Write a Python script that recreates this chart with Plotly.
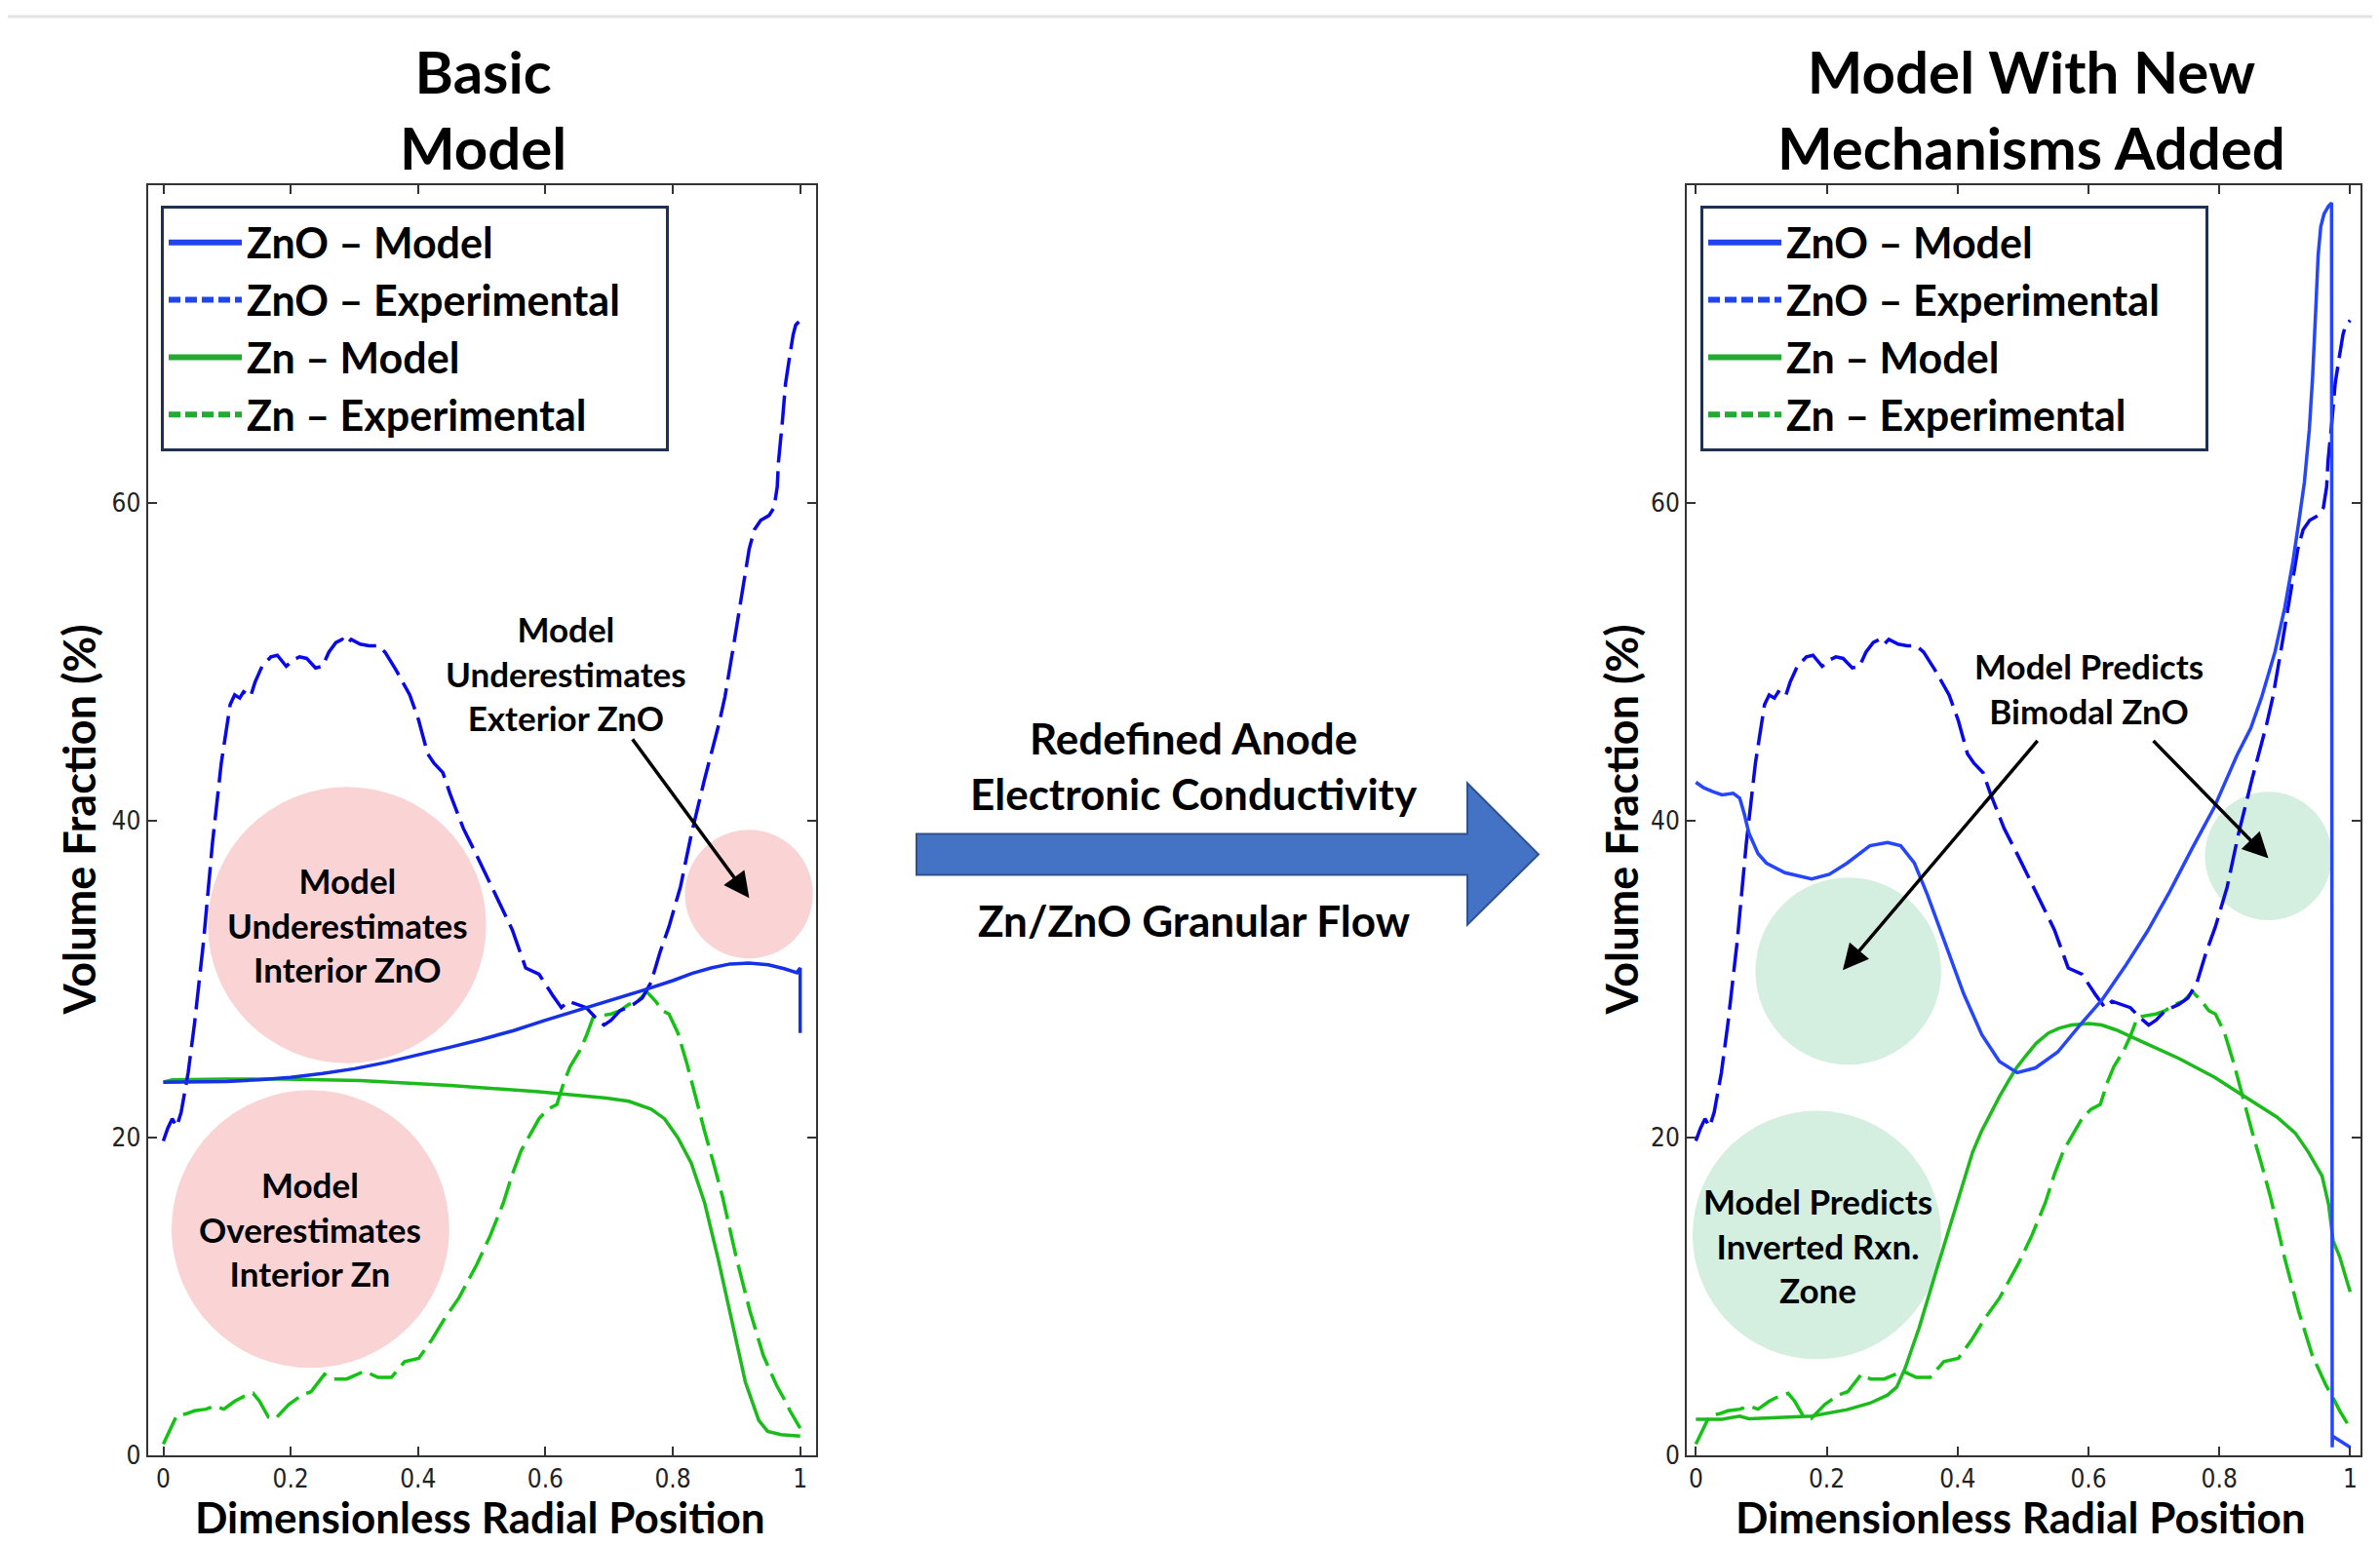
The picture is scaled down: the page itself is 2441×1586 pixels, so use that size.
import plotly.graph_objects as go

W, H = 2441, 1586          # browser window
OFF = 8                    # default body margin of the page
FW, FH = W - 2 * OFF, H    # figure size
SY = (H + 2 * OFF) / H     # page is captured a bit taller than the window, then fitted

# ---------------- data ----------------
zno_exp_x = [0.000, 0.007, 0.014, 0.021, 0.028, 0.034, 0.039, 0.049, 0.063, 0.077, 0.091, 0.105,
             0.112, 0.120, 0.126, 0.137, 0.144, 0.155, 0.169, 0.179, 0.193, 0.204, 0.214, 0.225,
             0.239, 0.250, 0.260, 0.271, 0.281, 0.288, 0.295, 0.309, 0.323, 0.337, 0.348, 0.365,
             0.387, 0.401, 0.415, 0.425, 0.439, 0.450, 0.471, 0.492, 0.520, 0.548, 0.569, 0.590,
             0.611, 0.625, 0.636, 0.650, 0.664, 0.678, 0.692, 0.703, 0.717, 0.738, 0.752, 0.766,
             0.780, 0.794, 0.812, 0.829, 0.850, 0.872, 0.882, 0.895, 0.908, 0.920, 0.928, 0.938,
             0.951, 0.959, 0.964, 0.966, 0.972, 0.977, 0.983, 0.989, 0.993, 1.000]
zno_exp_y = [19.8, 20.6, 21.2, 20.7, 21.6, 23.0, 24.1, 27.2, 32.3, 38.5, 43.6, 47.3,
             47.9, 47.7, 48.1, 47.8, 48.7, 49.7, 50.3, 50.4, 49.7, 50.1, 50.3, 50.2,
             49.6, 49.7, 50.6, 51.2, 51.4, 51.1, 51.4, 51.1, 51.0, 51.0, 50.6, 49.5,
             47.9, 46.3, 44.2, 43.6, 43.0, 41.7, 39.5, 37.8, 35.4, 33.1, 30.7, 30.3,
             29.0, 28.2, 28.6, 28.4, 28.2, 27.6, 27.1, 27.4, 28.0, 28.4, 28.8, 29.8,
             31.7, 33.3, 35.8, 39.1, 42.6, 46.0, 47.8, 50.9, 54.0, 57.1, 58.3, 58.9,
             59.2, 59.7, 61.0, 62.6, 65.1, 67.5, 69.1, 70.6, 71.2, 71.5]

zn_exp_x = [0.000, 0.011, 0.021, 0.035, 0.049, 0.067, 0.081, 0.095, 0.112, 0.126, 0.141, 0.151,
            0.165, 0.176, 0.197, 0.218, 0.232, 0.253, 0.267, 0.288, 0.316, 0.337, 0.358, 0.379,
            0.401, 0.422, 0.443, 0.464, 0.492, 0.513, 0.534, 0.548, 0.562, 0.576, 0.590, 0.604,
            0.618, 0.629, 0.639, 0.654, 0.664, 0.675, 0.689, 0.703, 0.717, 0.731, 0.745, 0.759,
            0.773, 0.784, 0.794, 0.808, 0.822, 0.836, 0.850, 0.864, 0.878, 0.900, 0.921, 0.942,
            0.963, 0.974, 0.984, 1.000]
zn_exp_y = [0.7, 1.7, 2.5, 2.6, 2.8, 2.9, 3.1, 2.9, 3.4, 3.7, 3.9, 3.4,
            2.4, 2.3, 3.2, 3.8, 4.0, 5.1, 4.8, 4.8, 5.3, 4.9, 4.9, 5.9,
            6.1, 7.3, 8.7, 9.9, 12.0, 13.8, 15.9, 17.7, 19.2, 20.2, 21.2, 21.8,
            22.1, 23.5, 24.5, 25.5, 26.4, 27.6, 27.7, 27.8, 28.0, 28.4, 28.6, 29.2,
            28.6, 28.0, 27.8, 26.6, 24.7, 22.5, 20.4, 18.4, 16.3, 12.4, 9.1, 6.3,
            4.4, 3.6, 2.8, 1.7]

basic_zno_model_x = [0.00, 0.05, 0.10, 0.15, 0.20, 0.25, 0.30, 0.35, 0.40, 0.45, 0.50, 0.55,
                     0.60, 0.65, 0.70, 0.75, 0.80, 0.83, 0.86, 0.89, 0.92, 0.95, 0.975, 0.995,
                     1.000, 1.000]
basic_zno_model_y = [23.5, 23.5, 23.55, 23.65, 23.8, 24.05, 24.35, 24.75, 25.2, 25.7, 26.2, 26.75,
                     27.4, 28.0, 28.6, 29.25, 29.9, 30.35, 30.7, 30.95, 31.0, 30.9, 30.65, 30.4,
                     30.7, 26.6]

basic_zn_model_x = [0.000, 0.014, 0.098, 0.190, 0.309, 0.450, 0.590, 0.696, 0.731, 0.766, 0.787,
                    0.808, 0.829, 0.850, 0.871, 0.892, 0.914, 0.935, 0.949, 0.970, 1.000]
basic_zn_model_y = [23.5, 23.65, 23.7, 23.7, 23.6, 23.3, 22.9, 22.5, 22.3, 21.8, 21.2,
                    20.0, 18.4, 15.9, 12.4, 8.5, 4.6, 2.2, 1.5, 1.3, 1.2]

new_zno_model_x = [0.000, 0.012, 0.026, 0.040, 0.057, 0.067, 0.074, 0.081, 0.095, 0.108, 0.136,
                   0.177, 0.204, 0.231, 0.266, 0.293, 0.313, 0.334, 0.354, 0.382, 0.409, 0.437,
                   0.464, 0.491, 0.519, 0.553, 0.587, 0.621, 0.656, 0.690, 0.724, 0.758, 0.792,
                   0.827, 0.848, 0.865, 0.885, 0.900, 0.9125, 0.9225, 0.930, 0.9375, 0.9425,
                   0.9475, 0.951, 0.955, 0.960, 0.967, 0.9715, 0.9725, 0.9730, 1.000]
new_zno_model_y = [42.4, 42.05, 41.8, 41.6, 41.7, 41.4, 40.4, 39.2, 37.9, 37.3, 36.7,
                   36.3, 36.6, 37.3, 38.4, 38.6, 38.4, 37.3, 35.3, 32.2, 29.1, 26.5,
                   24.8, 24.1, 24.4, 25.4, 27.1, 28.7, 30.8, 33.0, 35.5, 38.2, 40.8,
                   44.1, 45.8, 47.8, 50.6, 53.4, 56.3, 59.1, 61.3, 64.6, 67.9,
                   72.3, 75.6, 77.4, 78.2, 78.7, 78.9, 0.5, 1.2, 0.5]

new_zn_model_x = [0.000, 0.040, 0.067, 0.081, 0.177, 0.231, 0.266, 0.293, 0.307, 0.320, 0.330,
                  0.341, 0.368, 0.396, 0.410, 0.423, 0.437, 0.450, 0.464, 0.478, 0.490, 0.505,
                  0.520, 0.539, 0.555, 0.574, 0.601, 0.620, 0.642, 0.690, 0.738, 0.793, 0.847,
                  0.888, 0.916, 0.936, 0.957, 0.967, 0.974, 0.984, 0.994, 1.000]
new_zn_model_y = [2.26, 2.26, 2.46, 2.3, 2.46, 2.87, 3.28, 3.79, 4.3, 5.5, 6.7,
                  8.0, 11.7, 15.4, 17.4, 19.1, 20.45, 21.5, 22.6, 23.6, 24.4, 25.2,
                  25.95, 26.6, 26.9, 27.1, 27.2, 27.1, 26.8, 25.9, 25.0, 23.8, 22.4,
                  21.3, 20.3, 19.1, 17.6, 15.8, 13.5, 12.5, 11.1, 10.3]

x_tick_vals = [0, 0.2, 0.4, 0.6, 0.8, 1]
x_tick_text = ["0", "0.2", "0.4", "0.6", "0.8", "1"]
y_tick_vals = [0, 20, 40, 60]
y_tick_text = ["0", "20", "40", "60"]

series_names = ["ZnO \u2013 Model", "ZnO \u2013 Experimental", "Zn \u2013 Model", "Zn \u2013 Experimental"]

panel_titles = ["Basic<br>Model", "Model With New<br>Mechanisms Added"]
x_title = "Dimensionless Radial Position"
y_title = "Volume Fraction (%)"

# ---------------- style ----------------
FONT = "Lato, 'Open Sans', sans-serif"
TICKFONT = "'Liberation Sans Narrow', 'DejaVu Sans Condensed', 'Liberation Sans', sans-serif"
BLUE_MODEL_L = "#1630E8"
BLUE_MODEL_R = "#2645FF"
BLUE_EXP = "#0808E8"
GREEN_MODEL = "#1CBA1C"
GREEN_EXP = "#14C214"
LEG_BLUE = "#2244EE"
LEG_GREEN = "#22AA33"
PINK = "#FAD4D4"
MINT = "#D4EFE0"
DASH = "30px,9px"
LW = 3.5


def px_x(fx):
    """target picture pixel -> paper fraction"""
    return (fx - OFF) / FW


def px_y(fy):
    return 1 - (fy * SY - OFF) / FH


fig = go.Figure()

panels = [
    ("x", "y", "legend", BLUE_MODEL_L, basic_zno_model_x, basic_zno_model_y, basic_zn_model_x, basic_zn_model_y),
    ("x2", "y2", "legend2", BLUE_MODEL_R, new_zno_model_x, new_zno_model_y, new_zn_model_x, new_zn_model_y),
]

PAD = "\u00a0" * 4
for xa, ya, leg, bm, znomx, znomy, znmx, znmy in panels:
    fig.add_trace(go.Scatter(x=zn_exp_x, y=zn_exp_y, xaxis=xa, yaxis=ya, mode="lines",
                             line=dict(color=GREEN_EXP, width=LW, dash=DASH), showlegend=False,
                             name=series_names[3]))
    fig.add_trace(go.Scatter(x=znmx, y=znmy, xaxis=xa, yaxis=ya, mode="lines",
                             line=dict(color=GREEN_MODEL, width=LW), showlegend=False,
                             name=series_names[2]))
    fig.add_trace(go.Scatter(x=zno_exp_x, y=zno_exp_y, xaxis=xa, yaxis=ya, mode="lines",
                             line=dict(color=BLUE_EXP, width=LW, dash=DASH), showlegend=False,
                             name=series_names[1]))
    fig.add_trace(go.Scatter(x=znomx, y=znomy, xaxis=xa, yaxis=ya, mode="lines",
                             line=dict(color=bm, width=LW), showlegend=False,
                             name=series_names[0]))
    # legend entries
    leg_styles = [(LEG_BLUE, "solid"), (LEG_BLUE, "12px,5px"), (LEG_GREEN, "solid"), (LEG_GREEN, "12px,5px")]
    for i, (c, d) in enumerate(leg_styles):
        fig.add_trace(go.Scatter(x=[None], y=[None], xaxis=xa, yaxis=ya, mode="lines",
                                 line=dict(color=c, width=6, dash=d), name=series_names[i] + PAD,
                                 legend=leg, legendgroup=f"{leg}_{i}", showlegend=True))

legend_common = dict(
    xanchor="left", yanchor="top", bgcolor="white", bordercolor="#1F3050", borderwidth=3,
    font=dict(family=FONT, size=43, color="black", weight="bold"),
    traceorder="grouped", tracegroupgap=0, itemwidth=75,
)

axis_common = dict(
    showgrid=False, zeroline=False, showline=True, linecolor="#333333", linewidth=2,
    mirror="ticks", ticks="inside", ticklen=9, tickwidth=1.5, tickcolor="#333333",
    tickfont=dict(family=TICKFONT, size=26, color="#222222"),
)

ydom = [px_y(1492), px_y(190)]
fig.update_layout(
    width=FW, height=FH,
    margin=dict(l=0, r=0, t=0, b=0),
    paper_bgcolor="white", plot_bgcolor="white",
    xaxis=dict(domain=[px_x(151.5), px_x(837)], range=[-0.0245, 1.025], anchor="y",
               tickvals=x_tick_vals, ticktext=x_tick_text, **axis_common),
    yaxis=dict(domain=ydom, range=[0, 80], anchor="x",
               tickvals=y_tick_vals, ticktext=y_tick_text, **axis_common),
    xaxis2=dict(domain=[px_x(1730), px_x(2420.5)], range=[-0.0139, 1.015], anchor="y2",
                tickvals=x_tick_vals, ticktext=x_tick_text, **axis_common),
    yaxis2=dict(domain=ydom, range=[0, 80], anchor="x2",
                tickvals=y_tick_vals, ticktext=y_tick_text, **axis_common),
    legend=dict(x=px_x(165), y=px_y(211), **legend_common),
    legend2=dict(x=px_x(1744), y=px_y(211), **legend_common),
)

shapes = []
# thin grey line at top of image
shapes.append(dict(type="line", xref="paper", yref="paper", x0=0, x1=1, y0=px_y(17), y1=px_y(17),
                   line=dict(color="#E4E4E4", width=3)))

# highlight ellipses (left)
for x0, x1, y0, y1 in [(0.070, 0.507, 24.7, 42.1), (0.013, 0.449, 5.5, 23.0), (0.819, 1.020, 31.3, 39.4)]:
    shapes.append(dict(type="circle", xref="x", yref="y", x0=x0, x1=x1, y0=y0, y1=y1,
                       fillcolor=PINK, line=dict(width=0), layer="below"))
# highlight ellipses (right)
for x0, x1, y0, y1 in [(-0.005, 0.375, 6.05, 21.7), (0.091, 0.375, 24.6, 36.4), (0.778, 0.972, 33.7, 41.8)]:
    shapes.append(dict(type="circle", xref="x2", yref="y2", x0=x0, x1=x1, y0=y0, y1=y1,
                       fillcolor=MINT, line=dict(width=0), layer="below"))

# central block arrow
pts = [(940, 855), (1505, 855), (1505, 803), (1578, 876), (1505, 948), (1505, 897), (940, 897)]
path = "M " + " L ".join(f"{px_x(a):.5f},{px_y(b):.5f}" for a, b in pts) + " Z"
shapes.append(dict(type="path", xref="paper", yref="paper", path=path,
                   fillcolor="#4472C4", line=dict(color="#2F528F", width=2)))

ann = []
BF = dict(family=FONT, color="black", weight="bold")
C = dict(xanchor="center", yanchor="middle", showarrow=False)

# panel titles
ann.append(dict(text=panel_titles[0], x=px_x(495), y=px_y(112), xref="paper", yref="paper",
                font=dict(size=60, **BF), align="center", **C))
ann.append(dict(text=panel_titles[1], x=px_x(2083), y=px_y(112), xref="paper", yref="paper",
                font=dict(size=60, **BF), align="center", **C))

# axis titles
for cx, yx in [(492, 81), (2072, 1663)]:
    ann.append(dict(text=x_title, x=px_x(cx), y=px_y(1555), xref="paper", yref="paper",
                    font=dict(size=44, **BF), **C))
    ann.append(dict(text=y_title, x=px_x(yx), y=px_y(841), xref="paper", yref="paper",
                    textangle=-90, font=dict(size=45, **BF), **C))

# middle texts
ann.append(dict(text="Redefined Anode<br>Electronic Conductivity", x=px_x(1224), y=px_y(785),
                xref="paper", yref="paper", font=dict(size=44, **BF), **C))
ann.append(dict(text="Zn/ZnO Granular Flow", x=px_x(1224), y=px_y(943),
                xref="paper", yref="paper", font=dict(size=44, **BF), **C))

# ellipse labels left
ann.append(dict(text="Model<br>Underestimates<br>Interior ZnO", x=0.289, y=33.4, xref="x", yref="y",
                font=dict(size=35, **BF), **C))
ann.append(dict(text="Model<br>Overestimates<br>Interior Zn", x=0.231, y=14.25, xref="x", yref="y",
                font=dict(size=35, **BF), **C))
ann.append(dict(text="Model<br>Underestimates<br>Exterior ZnO", x=0.633, y=49.3, xref="x", yref="y",
                font=dict(size=35, **BF), **C))
ann.append(dict(text="", x=0.920, y=35.1, ax=0.735, ay=45.2, xref="x", yref="y", axref="x", ayref="y",
                showarrow=True, arrowhead=2, arrowsize=1.5, arrowwidth=3.5, arrowcolor="black"))

# ellipse labels right
ann.append(dict(text="Model Predicts<br>Inverted Rxn.<br>Zone", x=0.186, y=13.2, xref="x2", yref="y2",
                font=dict(size=35, **BF), **C))
ann.append(dict(text="Model Predicts<br>Bimodal ZnO", x=0.601, y=48.35, xref="x2", yref="y2",
                font=dict(size=35, **BF), **C))
ann.append(dict(text="", x=0.2245, y=30.56, ax=0.524, ay=45.1, xref="x2", yref="y2", axref="x2", ayref="y2",
                showarrow=True, arrowhead=2, arrowsize=1.5, arrowwidth=3.5, arrowcolor="black"))
ann.append(dict(text="", x=0.875, y=37.6, ax=0.697, ay=45.1, xref="x2", yref="y2", axref="x2", ayref="y2",
                showarrow=True, arrowhead=2, arrowsize=1.5, arrowwidth=3.5, arrowcolor="black"))

fig.update_layout(shapes=shapes, annotations=ann)

fig.write_html("out.html", config={"displayModeBar": False})
